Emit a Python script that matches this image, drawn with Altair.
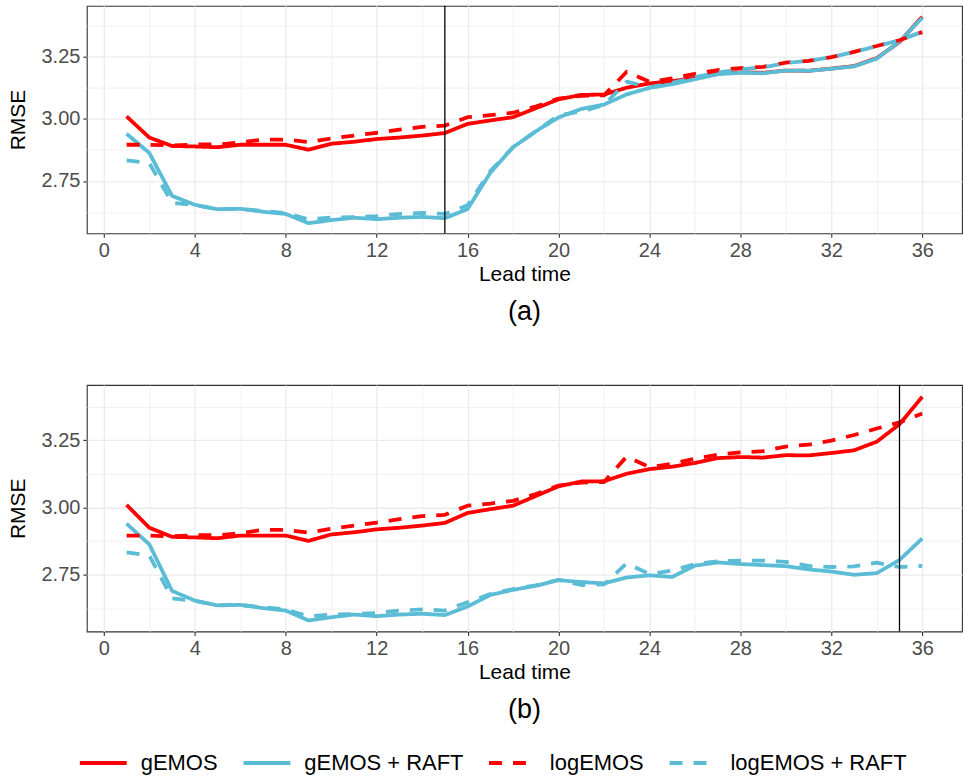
import altair as alt
import pandas as pd

lead = list(range(1, 37))

gemos = [3.010, 2.925, 2.891, 2.889, 2.886, 2.896, 2.896, 2.896, 2.876, 2.900,
         2.908, 2.919, 2.925, 2.933, 2.943, 2.980, 2.994, 3.007, 3.043, 3.079,
         3.097, 3.098, 3.126, 3.143, 3.152, 3.166, 3.184, 3.188, 3.186, 3.195,
         3.194, 3.203, 3.213, 3.245, 3.310, 3.412]

logemos = [2.896, 2.896, 2.893, 2.897, 2.897, 2.905, 2.917, 2.917, 2.907, 2.921,
           2.933, 2.944, 2.957, 2.968, 2.973, 3.007, 3.015, 3.025, 3.050, 3.082,
           3.093, 3.095, 3.190, 3.150, 3.163, 3.182, 3.197, 3.205, 3.210, 3.227,
           3.234, 3.249, 3.270, 3.294, 3.317, 3.350]

gemos_raft_a = [2.940, 2.863, 2.690, 2.654, 2.636, 2.638, 2.626, 2.617, 2.580, 2.592,
                2.602, 2.596, 2.602, 2.605, 2.600, 2.637, 2.783, 2.886, 2.950, 3.006,
                3.040, 3.058, 3.099, 3.125, 3.140, 3.160, 3.180, 3.186, 3.184, 3.195,
                3.194, 3.202, 3.212, 3.243, 3.312, 3.408]

logemos_raft_a = [2.833, 2.822, 2.662, 2.653, 2.637, 2.638, 2.629, 2.621, 2.595, 2.602,
                  2.604, 2.608, 2.617, 2.621, 2.617, 2.652, 2.790, 2.886, 2.950, 3.015,
                  3.030, 3.056, 3.150, 3.128, 3.145, 3.168, 3.187, 3.200, 3.207, 3.226,
                  3.234, 3.249, 3.270, 3.293, 3.317, 3.351]

gemos_raft_b = [2.940, 2.863, 2.690, 2.654, 2.636, 2.638, 2.626, 2.617, 2.580, 2.592,
                2.602, 2.596, 2.602, 2.605, 2.600, 2.632, 2.675, 2.694, 2.709, 2.730,
                2.723, 2.718, 2.740, 2.748, 2.742, 2.784, 2.796, 2.790, 2.786, 2.782,
                2.770, 2.762, 2.750, 2.756, 2.805, 2.885]

logemos_raft_b = [2.833, 2.822, 2.662, 2.653, 2.637, 2.638, 2.629, 2.621, 2.595, 2.602,
                  2.604, 2.608, 2.617, 2.621, 2.617, 2.648, 2.678, 2.697, 2.711, 2.731,
                  2.712, 2.714, 2.793, 2.753, 2.766, 2.790, 2.800, 2.803, 2.803, 2.798,
                  2.783, 2.779, 2.781, 2.795, 2.779, 2.783]

series_names = ["gEMOS", "gEMOS + RAFT", "logEMOS", "logEMOS + RAFT"]
series_colors = ["#FF0000", "#5BBCD6", "#FF0000", "#5BBCD6"]
series_dash = [[1, 0], [1, 0], [13, 11], [13, 11]]

cut_a = [15]
cut_b = [35]
captions = ["(a)", "(b)"]

x_ticks = list(range(0, 37, 2))
y_ticks = [2.625, 2.75, 2.875, 3.0, 3.125, 3.25, 3.375]

FONT = "Liberation Sans"


def make_df(raft_g, raft_log):
    rows = []
    for name, vals in zip(series_names, [gemos, raft_g, logemos, raft_log]):
        for k, v in zip(lead, vals):
            rows.append({"lead": k, "rmse": v, "series": name})
    return pd.DataFrame(rows)


major_x = "datum.value % 4 === 0"
major_y = "abs(datum.value * 4 - round(datum.value * 4)) < 0.001"


def panel(df, cut, caption, height):
    x = alt.X(
        "lead:Q",
        scale=alt.Scale(domain=[-0.75, 37.75], nice=False, zero=False),
        axis=alt.Axis(
            title="Lead time",
            values=x_ticks,
            labelExpr=f"{major_x} ? datum.label : ''",
            tickOpacity={"condition": {"test": major_x, "value": 1}, "value": 0},
            gridWidth={"condition": {"test": major_x, "value": 1.3}, "value": 0.7},
            gridColor="#EBEBEB",
            domain=False,
            tickColor="#333333",
            tickSize=4,
            tickWidth=1.1,
            labelPadding=3,
            labelFontSize=20,
            labelColor="#4D4D4D",
            labelFont=FONT,
            titleFont=FONT,
            titleFontSize=21,
            titleFontWeight="normal",
            titleColor="#000000",
            titlePadding=3,
        ),
    )
    y = alt.Y(
        "rmse:Q",
        scale=alt.Scale(domain=[2.539, 3.456], nice=False, zero=False),
        axis=alt.Axis(
            title="RMSE",
            values=y_ticks,
            labelExpr=f"({major_y}) ? format(datum.value, '.2f') : ''",
            tickOpacity={"condition": {"test": major_y, "value": 1}, "value": 0},
            gridWidth={"condition": {"test": major_y, "value": 1.3}, "value": 0.7},
            gridColor="#EBEBEB",
            domain=False,
            tickColor="#333333",
            tickSize=4,
            tickWidth=1.1,
            labelPadding=3,
            labelFontSize=20,
            labelColor="#4D4D4D",
            labelFont=FONT,
            titleFont=FONT,
            titleFontSize=21,
            titleFontWeight="normal",
            titleColor="#000000",
            titlePadding=13,
        ),
    )
    lines = alt.Chart(df).mark_line(strokeWidth=3.8, strokeCap="butt", strokeJoin="round").encode(
        x=x,
        y=y,
        color=alt.Color(
            "series:N",
            scale=alt.Scale(domain=series_names, range=series_colors),
            legend=alt.Legend(
                title=None,
                orient="none",
                direction="horizontal",
                legendX=-9,
                legendY=733,
                padding=0,
                symbolType="stroke",
                symbolSize=2209,
                symbolStrokeWidth=4,
                labelFontSize=22,
                labelFont=FONT,
                labelColor="#000000",
                labelOffset=12,
                labelLimit=400,
                columnPadding=17,
            ),
        ),
        strokeDash=alt.StrokeDash(
            "series:N",
            scale=alt.Scale(domain=series_names, range=series_dash),
            legend=alt.Legend(title=None),
        ),
        order=alt.Order("lead:Q"),
    )
    rule = alt.Chart(pd.DataFrame({"cut": cut})).mark_rule(color="#000000", strokeWidth=1.3).encode(
        x="cut:Q"
    )
    return alt.layer(lines, rule).properties(
        width=877,
        height=height,
        title=alt.TitleParams(
            caption,
            orient="bottom",
            anchor="middle",
            frame="group",
            fontSize=27,
            fontWeight="normal",
            font=FONT,
            color="#000000",
            offset=15,
        ),
    )


top = panel(make_df(gemos_raft_a, logemos_raft_a), cut_a, captions[0], 228)
bottom = panel(make_df(gemos_raft_b, logemos_raft_b), cut_b, captions[1], 247)

chart = alt.vconcat(top, bottom, spacing=57).resolve_scale(
    color="shared", strokeDash="shared"
).properties(
    padding={"left": 6, "top": 3, "right": 2, "bottom": 0},
    background="white",
).configure_view(
    stroke="#333333", strokeWidth=1.1
).configure_concat(spacing=57)

chart.save("out.html", embed_options={"renderer": "svg", "actions": False})
